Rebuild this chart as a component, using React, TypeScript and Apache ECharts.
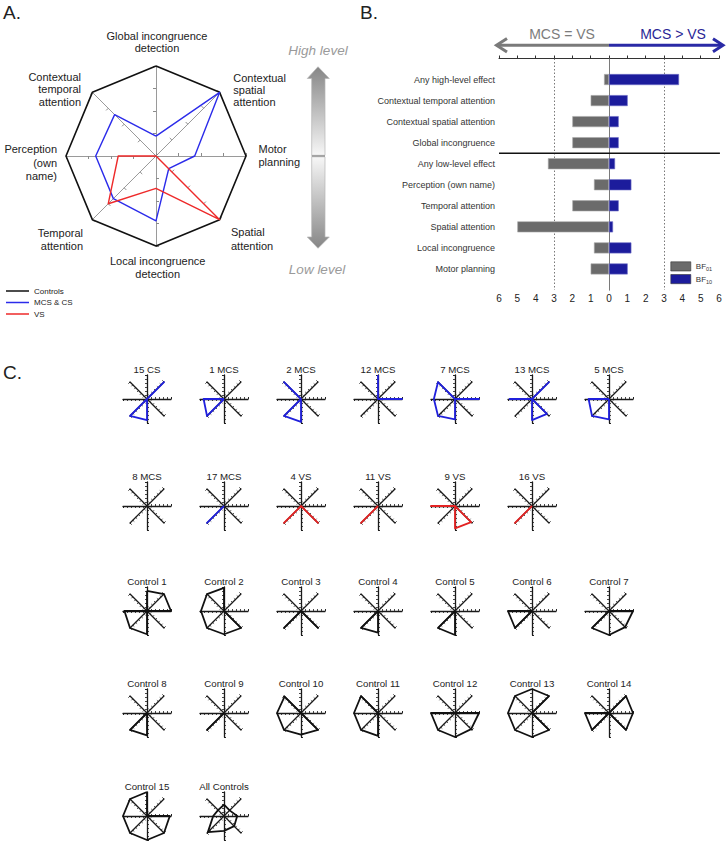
import React, { useEffect, useRef } from 'react';
import * as echarts from 'echarts';

const FONT = '"Liberation Sans", Arial, Helvetica, sans-serif';

// ---------- Panel A : group radar ----------
// order = counter-clockwise from the top (ECharts radar order)
const RADAR_AXES = [
  'Global incongruence detection',
  'Contextual temporal attention',
  'Perception (own name)',
  'Temporal attention',
  'Local incongruence detection',
  'Spatial attention',
  'Motor planning',
  'Contextual spatial attention',
];
const RADAR_AXIS_LABELS = [
  'Global incongruence\ndetection',
  'Contextual\ntemporal\nattention',
  'Perception\n(own\nname)',
  'Temporal\nattention',
  'Local incongruence\ndetection',
  'Spatial\nattention',
  'Motor\nplanning',
  'Contextual\nspatial\nattention',
];
const GROUP_NAMES = ['Controls', 'MCS & CS', 'VS'];
const GROUP_COLORS = ['#111111', '#2b2bea', '#ee2a2a'];
const CONTROLS_PROFILE = [1, 1, 1, 1, 1, 1, 1, 1];
const MCS_PROFILE = [0.22, 0.65, 0.67, 0.67, 0.72, 0.2, 0.43, 1.0];
const VS_PROFILE = [0, 0, 0.42, 0.75, 0.36, 1.0, 0, 0];

// ---------- Panel B : Bayes factors ----------
const BF_CATEGORIES = [
  'Any high-level effect',
  'Contextual temporal attention',
  'Contextual spatial attention',
  'Global incongruence',
  'Any low-level effect',
  'Perception (own name)',
  'Temporal attention',
  'Spatial attention',
  'Local incongruence',
  'Motor planning',
];
const BF01 = [0.27, 1.0, 2.0, 2.0, 3.33, 0.82, 2.0, 5.0, 0.82, 1.0];
const BF10 = [3.82, 1.02, 0.53, 0.53, 0.33, 1.22, 0.53, 0.22, 1.22, 1.02];
const BF_SERIES_NAMES = ['BF01', 'BF10'];
const BF_TICKS_MIN = -6;
const BF_TICKS_MAX = 6;
const BF_REFERENCE_LINES = [-3, 3];

// ---------- Panel C : individual profiles ----------
const PATIENT_NAMES = ['15 CS', '1 MCS', '2 MCS', '12 MCS', '7 MCS', '13 MCS', '5 MCS',
  '8 MCS', '17 MCS', '4 VS', '11 VS', '9 VS', '16 VS'];
const PATIENT_GROUP = ['MCS', 'MCS', 'MCS', 'MCS', 'MCS', 'MCS', 'MCS',
  'MCS', 'MCS', 'VS', 'VS', 'VS', 'VS'];
const PATIENT_PROFILES = [
  [0, 0, 0, 1, 0.88, 0, 0, 1],
  [0, 0, 0.85, 1, 0, 0, 0, 0],
  [0, 1, 0, 1, 0.95, 0, 0, 0],
  [1, 0, 0, 0, 0, 0, 1, 0],
  [0, 1, 0.88, 1, 0.85, 0, 1, 0],
  [0, 0, 0.93, 0, 0.88, 0.88, 0, 1],
  [0, 0, 0.85, 1, 0.85, 0, 0, 0],
  [0, 0, 0, 0, 0, 0, 0, 0],
  [0, 0, 0, 1, 0, 0, 0, 0],
  [0, 0, 0, 1, 0, 1, 0, 0],
  [0, 0, 0, 1, 0, 0, 0, 0],
  [0, 0, 1, 0, 0.93, 0.95, 0, 0],
  [0, 0, 0, 1, 0, 0, 0, 0],
];
const CONTROL_NAMES = ['Control 1', 'Control 2', 'Control 3', 'Control 4', 'Control 5', 'Control 6', 'Control 7',
  'Control 8', 'Control 9', 'Control 10', 'Control 11', 'Control 12', 'Control 13', 'Control 14',
  'Control 15', 'All Controls'];
const CONTROL_PROFILES = [
  [0.84, 0, 0.94, 1, 0.97, 0, 1, 1],
  [0.96, 1, 0.96, 1, 0.97, 1, 0, 0],
  [0, 0, 0, 1, 0, 1, 0, 0],
  [0, 0, 0, 1, 0.9, 0, 0, 0],
  [0, 0, 0, 1, 1, 0, 0, 0],
  [0, 0, 1, 1, 0, 0, 0, 0],
  [0, 0, 0, 1, 1, 0.95, 1, 0],
  [0, 0, 0, 1, 0.93, 0, 0, 0],
  [0, 0, 0, 1, 0, 0, 0, 0],
  [0, 0.97, 1, 1, 0.9, 1, 0, 0],
  [0, 1, 1, 1, 0.95, 0, 0, 0],
  [0, 0, 1, 1, 1, 0.95, 1, 0],
  [1, 1, 1, 1, 1, 1, 0, 1],
  [0, 0, 1, 1, 0, 1, 1, 1],
  [1, 1, 1, 1, 1, 1, 0.95, 0],
  [0.47, 0.35, 0.45, 0.95, 0.62, 0.6, 0.55, 0.33],
];

// layout of the small multiples
const COL_X = [147, 224, 301, 378, 455, 532, 609];
const ROW_Y = [399, 506, 611, 713, 816];

const txt = (text: string, x: number, y: number, opts: any = {}) => ({
  type: 'text',
  x,
  y,
  silent: true,
  style: {
    text,
    fontFamily: FONT,
    fontSize: opts.fontSize ?? 11,
    fontStyle: opts.fontStyle ?? 'normal',
    fill: opts.fill ?? '#222',
    align: opts.align ?? 'center',
    verticalAlign: 'middle',
    lineHeight: opts.lineHeight ?? 13,
  },
});

export default function App() {
  const ref = useRef<HTMLDivElement>(null);

  useEffect(() => {
    if (!ref.current) return;
    const chart = echarts.init(ref.current, undefined, { renderer: 'svg' });

    const indicator = RADAR_AXES.map((n) => ({ name: n, min: 0, max: 1 }));

    // ---- radars
    const radars: any[] = [
      {
        center: [156, 156],
        radius: 90,
        startAngle: 90,
        splitNumber: 4,
        shape: 'polygon',
        indicator,
        axisName: { show: false },
        axisLine: { lineStyle: { color: '#9a9a9a', width: 1 } },
        axisTick: { show: true, length: 3, lineStyle: { color: '#8a8a8a', width: 1 } },
        splitLine: { show: false },
        splitArea: { show: false },
      },
    ];
    const series: any[] = [
      {
        type: 'radar',
        radarIndex: 0,
        symbol: 'none',
        silent: true,
        data: [CONTROLS_PROFILE, MCS_PROFILE, VS_PROFILE].map((v, i) => ({
          name: GROUP_NAMES[i],
          value: v,
          lineStyle: { color: GROUP_COLORS[i], width: i === 0 ? 1.6 : 1.4 },
          itemStyle: { color: GROUP_COLORS[i] },
        })),
      },
    ];

    const slots: { name: string; values: number[]; color: string; row: number; col: number }[] = [];
    PATIENT_NAMES.forEach((n, i) => {
      slots.push({
        name: n,
        values: PATIENT_PROFILES[i],
        color: PATIENT_GROUP[i] === 'VS' ? '#e32222' : '#2020dc',
        row: Math.floor(i / 7),
        col: i % 7,
      });
    });
    CONTROL_NAMES.forEach((n, j) => {
      slots.push({ name: n, values: CONTROL_PROFILES[j], color: '#111111', row: 2 + Math.floor(j / 7), col: j % 7 });
    });

    const graphics: any[] = [];

    slots.forEach((s, k) => {
      const cx = COL_X[s.col];
      const cy = ROW_Y[s.row];
      radars.push({
        center: [cx, cy],
        radius: 24,
        startAngle: 90,
        splitNumber: 6,
        shape: 'polygon',
        indicator,
        axisName: { show: false },
        axisLine: { lineStyle: { color: '#1a1a1a', width: 1.3 } },
        axisTick: { show: true, length: 2, lineStyle: { color: '#1a1a1a', width: 0.8 } },
        splitLine: { show: false },
        splitArea: { show: false },
      });
      series.push({
        type: 'radar',
        radarIndex: k + 1,
        symbol: 'none',
        silent: true,
        data: [
          {
            name: s.name,
            value: s.values,
            lineStyle: { color: s.color, width: 1.8 },
            itemStyle: { color: s.color },
          },
        ],
      });
      graphics.push(txt(s.name, cx, cy - 30, { fontSize: 9.7 }));
    });

    // ---- Panel B bars
    const yCats = ['', ...BF_CATEGORIES, ''];
    series.push(
      {
        type: 'bar',
        name: BF_SERIES_NAMES[0],
        xAxisIndex: 0,
        yAxisIndex: 0,
        barWidth: 11,
        barGap: '-100%',
        z: 3,
        itemStyle: { color: '#6b6b6b', borderColor: '#a9a9a9', borderWidth: 0.6 },
        data: ['-', ...BF01.map((v) => -v), '-'],
      },
      {
        type: 'bar',
        name: BF_SERIES_NAMES[1],
        xAxisIndex: 0,
        yAxisIndex: 0,
        barWidth: 11,
        barGap: '-100%',
        z: 3,
        itemStyle: { color: '#1c1c9c', borderColor: '#7070c8', borderWidth: 0.6 },
        data: ['-', ...BF10, '-'],
      },
      {
        type: 'line',
        xAxisIndex: 0,
        yAxisIndex: 1,
        symbol: 'none',
        silent: true,
        z: 1,
        lineStyle: { color: '#111', width: 1.5 },
        data: [
          [BF_TICKS_MIN, 4.5],
          [BF_TICKS_MAX + 0.05, 4.5],
        ],
        markLine: {
          silent: true,
          symbol: 'none',
          label: { show: false },
          z: 1,
          data: [
            ...BF_REFERENCE_LINES.map((v) => ({
              xAxis: v,
              lineStyle: { color: '#555', width: 0.8, type: [1.5, 2] },
            })),
            { xAxis: 0, lineStyle: { color: '#7a7a7a', width: 1, type: 'solid' } },
          ],
        },
      }
    );

    // ---- graphics: panel labels, axis names, arrows
    graphics.push(
      txt('A.', 3, 12, { fontSize: 19, align: 'left' }),
      txt('B.', 360, 12, { fontSize: 19, align: 'left' }),
      txt('C.', 3, 372, { fontSize: 19, align: 'left' })
    );
    // radar axis names (A)
    const namePos: [number, number, string, number][] = [
      [157, 42, 'center', 12],
      [81, 89.3, 'right', 12.5],
      [57, 162.5, 'right', 13.3],
      [83, 239.7, 'right', 12.7],
      [157.7, 267.3, 'center', 13.3],
      [231, 239, 'left', 13.3],
      [258.5, 155.7, 'left', 13.3],
      [233.3, 90, 'left', 12.3],
    ];
    RADAR_AXIS_LABELS.forEach((l, i) => {
      const [x, y, a, lh] = namePos[i];
      graphics.push(txt(l, x, y, { fontSize: 11, align: a, lineHeight: lh }));
    });
    graphics.push(
      txt('High level', 318, 50, { fontSize: 13.5, fontStyle: 'italic', fill: '#9a9a9a' }),
      txt('Low level', 317, 269, { fontSize: 13.5, fontStyle: 'italic', fill: '#9a9a9a' })
    );
    // gradient double arrow
    graphics.push(
      {
        type: 'polygon',
        silent: true,
        shape: {
          points: [
            [318, 66.7], [329.3, 78.5], [325, 78.5], [325, 155.3], [311.7, 155.3], [311.7, 78.5], [307.3, 78.5],
          ],
        },
        style: {
          fill: {
            type: 'linear', x: 0, y: 0, x2: 0, y2: 1,
            colorStops: [
              { offset: 0, color: '#868686' },
              { offset: 1, color: '#f7f7f7' },
            ],
          },
          stroke: '#b5b5b5',
          lineWidth: 0.7,
        },
      },
      {
        type: 'polygon',
        silent: true,
        shape: {
          points: [
            [311.7, 156.8], [325, 156.8], [325, 237], [329.3, 237], [318, 248.3], [307.3, 237], [311.7, 237],
          ],
        },
        style: {
          fill: {
            type: 'linear', x: 0, y: 0, x2: 0, y2: 1,
            colorStops: [
              { offset: 0, color: '#f7f7f7' },
              { offset: 1, color: '#868686' },
            ],
          },
          stroke: '#b5b5b5',
          lineWidth: 0.7,
        },
      },
      {
        type: 'line',
        silent: true,
        shape: { x1: 311.7, y1: 156, x2: 325, y2: 156 },
        style: { stroke: '#8a8a8a', lineWidth: 1.3 },
      }
    );
    // panel B top arrows
    graphics.push(
      txt('MCS = VS', 562, 34, { fontSize: 14, fill: '#7c7c7c' }),
      txt('MCS > VS', 673, 34, { fontSize: 14, fill: '#2a2696' }),
      {
        type: 'line', silent: true,
        shape: { x1: 609, y1: 45.3, x2: 497, y2: 45.3 },
        style: { stroke: '#7a7a7a', lineWidth: 3 },
      },
      {
        type: 'polyline', silent: true,
        shape: { points: [[507, 38.5], [496.5, 45.3], [507, 52.1]] },
        style: { stroke: '#7a7a7a', lineWidth: 3, fill: null },
      },
      {
        type: 'line', silent: true,
        shape: { x1: 609, y1: 45.3, x2: 721, y2: 45.3 },
        style: { stroke: '#2a2aa6', lineWidth: 3 },
      },
      {
        type: 'polyline', silent: true,
        shape: { points: [[713, 38.8], [723, 45.3], [713, 51.8]] },
        style: { stroke: '#2a2aa6', lineWidth: 3, fill: null },
      }
    );

    const option: any = {
      animation: false,
      backgroundColor: '#ffffff',
      textStyle: { fontFamily: FONT },
      legend: [
        {
          data: GROUP_NAMES,
          orient: 'vertical',
          left: 6,
          top: 286,
          padding: 0,
          icon: 'rect',
          itemWidth: 23,
          itemHeight: 1.5,
          itemGap: 1.5,
          selectedMode: false,
          textStyle: { fontSize: 8, color: '#222', lineHeight: 10, fontFamily: FONT },
        },
        {
          data: BF_SERIES_NAMES,
          orient: 'vertical',
          left: 670.5,
          top: 261.5,
          padding: 0,
          icon: 'rect',
          itemWidth: 20,
          itemHeight: 9.2,
          itemGap: 1.8,
          selectedMode: false,
          itemStyle: { borderColor: '#333', borderWidth: 0.6 },
          formatter: (n: string) => `BF{s|${n.slice(2)}}`,
          textStyle: {
            fontSize: 8,
            color: '#333',
            fontFamily: FONT,
            rich: { s: { fontSize: 5.5, padding: [6, 0, 0, 0], fontFamily: FONT, color: '#333' } },
          },
        },
      ],
      radar: radars,
      grid: [{ left: 499, top: 58.5, width: 220, height: 231.5, containLabel: false }],
      xAxis: [
        {
          type: 'value',
          gridIndex: 0,
          min: BF_TICKS_MIN,
          max: BF_TICKS_MAX,
          interval: 1,
          splitLine: { show: false },
          axisLine: { show: true, lineStyle: { color: '#333', width: 1 } },
          axisTick: { show: true, inside: true, length: 3, lineStyle: { color: '#333' } },
          axisLabel: {
            fontSize: 10,
            color: '#222',
            margin: 3,
            fontFamily: FONT,
            formatter: (v: number) => String(Math.abs(v)),
          },
        },
      ],
      yAxis: [
        {
          type: 'category',
          gridIndex: 0,
          data: yCats,
          inverse: true,
          boundaryGap: false,
          axisLine: { show: true, lineStyle: { color: '#333', width: 1 } },
          axisTick: { show: false },
          axisLabel: { interval: 0, fontSize: 9, color: '#333', margin: 4, fontFamily: FONT },
          splitLine: { show: false },
        },
        {
          type: 'value',
          gridIndex: 0,
          min: 0,
          max: 11,
          inverse: true,
          show: false,
          splitLine: { show: false },
        },
      ],
      graphic: graphics,
      series,
    };

    chart.setOption(option);
    return () => chart.dispose();
  }, []);

  return (
    <div
      ref={ref}
      style={{ position: 'absolute', left: 0, top: 0, width: 726, height: 841, background: '#fff' }}
    />
  );
}
